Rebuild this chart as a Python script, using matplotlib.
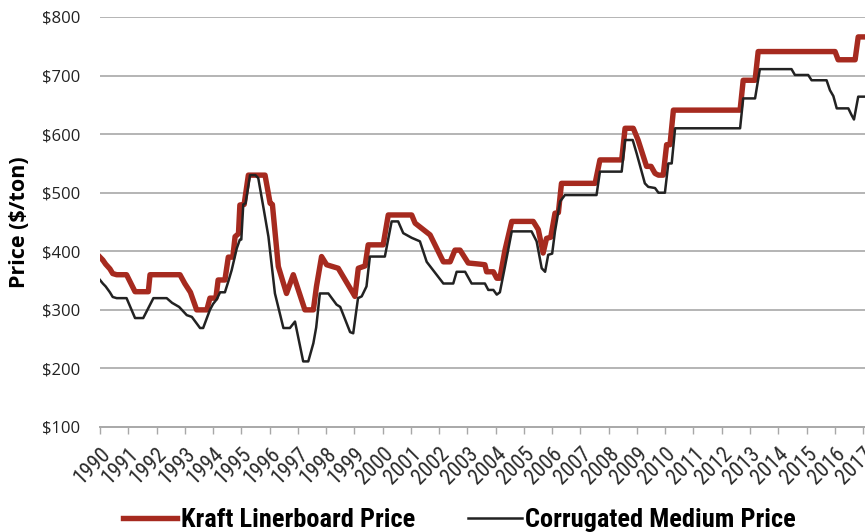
import matplotlib
matplotlib.use('Agg')
import matplotlib.pyplot as plt
from matplotlib import font_manager

# breakpoints: (year, $/ton)
kraft_years = [1990.00, 1990.10, 1990.20, 1990.35, 1990.45, 1990.59, 1990.94, 1991.24, 1991.71, 1991.77,
               1992.83, 1993.00, 1993.20, 1993.42, 1993.78, 1993.89, 1994.10, 1994.18, 1994.42, 1994.54,
               1994.70, 1994.78, 1994.90, 1994.95, 1995.10, 1995.25, 1995.84, 1996.02, 1996.10, 1996.31,
               1996.60, 1996.84, 1997.25, 1997.55, 1997.66, 1997.84, 1998.02, 1998.43, 1998.96, 1999.02,
               1999.14, 1999.38, 1999.49, 2000.02, 2000.20, 2001.03, 2001.15, 2001.68, 2002.15, 2002.39,
               2002.56, 2002.74, 2003.03, 2003.45, 2003.62, 2003.68, 2003.92, 2004.04, 2004.15, 2004.33,
               2004.57, 2005.33, 2005.51, 2005.68, 2005.80, 2005.95, 2006.10, 2006.22, 2006.33, 2007.52,
               2007.69, 2008.46, 2008.58, 2008.87, 2009.04, 2009.34, 2009.50, 2009.64, 2009.76, 2009.93,
               2010.05, 2010.17, 2010.29, 2012.65, 2012.76, 2013.18, 2013.29, 2016.01, 2016.12, 2016.72,
               2016.83, 2017.07]
kraft_price = [390, 385, 378, 370, 362, 360, 360, 331, 331, 360,
               360, 345, 330, 300, 300, 320, 320, 351, 351, 390,
               390, 425, 430, 479, 480, 530, 530, 482, 480, 374,
               328, 360, 300, 300, 340, 391, 377, 371, 328, 323,
               371, 375, 411, 411, 462, 462, 448, 428, 382, 382,
               402, 402, 380, 378, 377, 365, 365, 354, 354, 402,
               451, 451, 437, 397, 422, 424, 465, 466, 516, 516,
               556, 556, 610, 610, 590, 545, 545, 533, 530, 530,
               582, 582, 641, 641, 692, 692, 741, 741, 727, 727,
               766, 766]

medium_years = [1990.00, 1990.10, 1990.20, 1990.35, 1990.45, 1990.59, 1990.94, 1991.24, 1991.53, 1991.89,
                1992.36, 1992.55, 1992.80, 1993.07, 1993.25, 1993.54, 1993.65, 1993.89, 1994.00, 1994.13,
                1994.25, 1994.42, 1994.55, 1994.66, 1994.84, 1994.95, 1995.00, 1995.07, 1995.15, 1995.31,
                1995.50, 1995.60, 1995.80, 1995.96, 1996.19, 1996.49, 1996.72, 1996.90, 1997.19, 1997.37,
                1997.55, 1997.65, 1997.78, 1998.08, 1998.37, 1998.50, 1998.85, 1998.96, 1999.13, 1999.26,
                1999.43, 1999.55, 2000.08, 2000.32, 2000.55, 2000.73, 2001.03, 2001.32, 2001.56, 2002.15,
                2002.50, 2002.62, 2002.92, 2003.15, 2003.62, 2003.74, 2003.92, 2004.04, 2004.15, 2004.33,
                2004.57, 2005.27, 2005.45, 2005.63, 2005.75, 2005.86, 2006.00, 2006.10, 2006.28, 2006.45,
                2007.57, 2007.69, 2008.46, 2008.58, 2008.85, 2008.99, 2009.28, 2009.40, 2009.64, 2009.76,
                2009.99, 2010.11, 2010.23, 2010.35, 2012.65, 2012.76, 2013.18, 2013.35, 2014.47, 2014.59,
                2015.06, 2015.18, 2015.71, 2015.83, 2015.95, 2016.07, 2016.48, 2016.59, 2016.68, 2016.83,
                2017.07]
medium_price = [351, 345, 340, 330, 322, 320, 320, 286, 286, 320,
                320, 312, 305, 291, 288, 269, 269, 300, 310, 318,
                330, 330, 350, 368, 405, 420, 420, 480, 482, 530,
                530, 525, 470, 425, 328, 269, 269, 280, 212, 212,
                243, 270, 328, 328, 309, 305, 262, 260, 320, 323,
                340, 391, 391, 451, 451, 431, 423, 417, 382, 345,
                345, 365, 365, 345, 345, 334, 334, 326, 330, 374,
                434, 434, 417, 371, 365, 394, 396, 434, 485, 496,
                496, 536, 536, 590, 590, 567, 516, 510, 508, 500,
                500, 550, 550, 610, 610, 661, 661, 711, 711, 701,
                701, 692, 692, 675, 665, 644, 644, 633, 625, 664,
                664]

year_ticks  = list(range(1990, 2018))
price_ticks = [100, 200, 300, 400, 500, 600, 700, 800]

installed = {f.name for f in font_manager.fontManager.ttflist}
narrow = 'DejaVu Sans'
for name in ['Liberation Sans Narrow', 'DejaVu Sans Condensed', 'Roboto Condensed', 'Open Sans Condensed']:
    if name in installed:
        narrow = name
        break
plain = 'Open Sans' if 'Open Sans' in installed else 'DejaVu Sans'

fig = plt.figure(figsize=(8.65, 5.32), dpi=100)
ax  = fig.add_axes([100/865, 1 - 427/532, 1 - 100/865, 410/532])

ax.plot(kraft_years, kraft_price, color='#a62a1f', lw=3.9, solid_joinstyle='round',
        label='Kraft Linerboard Price', zorder=3)
ax.plot(medium_years, medium_price, color='#222222', lw=1.8, solid_joinstyle='round',
        label='Corrugated Medium Price', zorder=4)

ax.set_xlim(1990, 2017.07)
ax.set_ylim(100, 800)
ax.set_yticks(price_ticks)
ax.set_yticklabels(['$' + str(p) for p in price_ticks], fontsize=12, family=plain, color='#222222')
ax.set_xticks(year_ticks)
ax.set_xticklabels([str(y) for y in year_ticks], rotation=45, ha='right', rotation_mode='anchor',
                   fontsize=15.5, family=narrow, color='#2a2a2a')

for p in price_ticks[1:]:
    ax.axhline(p, color='#b4b4b4', lw=1.4, zorder=1)

for s in ['top', 'right', 'left']:
    ax.spines[s].set_visible(False)
ax.spines['bottom'].set_color('#a8a8a8')
ax.spines['bottom'].set_linewidth(1.4)
ax.tick_params(axis='y', length=0, pad=14)
ax.tick_params(axis='x', direction='out', length=5, width=1, color='#a8a8a8', pad=7)

ax.set_ylabel('Price ($/ton)', fontsize=15.5, fontweight='bold', family=plain, labelpad=9)

leg = ax.legend(loc='center', bbox_to_anchor=(0.47, -0.228), ncol=2, frameon=False,
                handlelength=2.05, handletextpad=0.12, columnspacing=2.0,
                prop={'family': narrow, 'weight': 'bold', 'size': 19})

fig.savefig('out.png', dpi=100)
